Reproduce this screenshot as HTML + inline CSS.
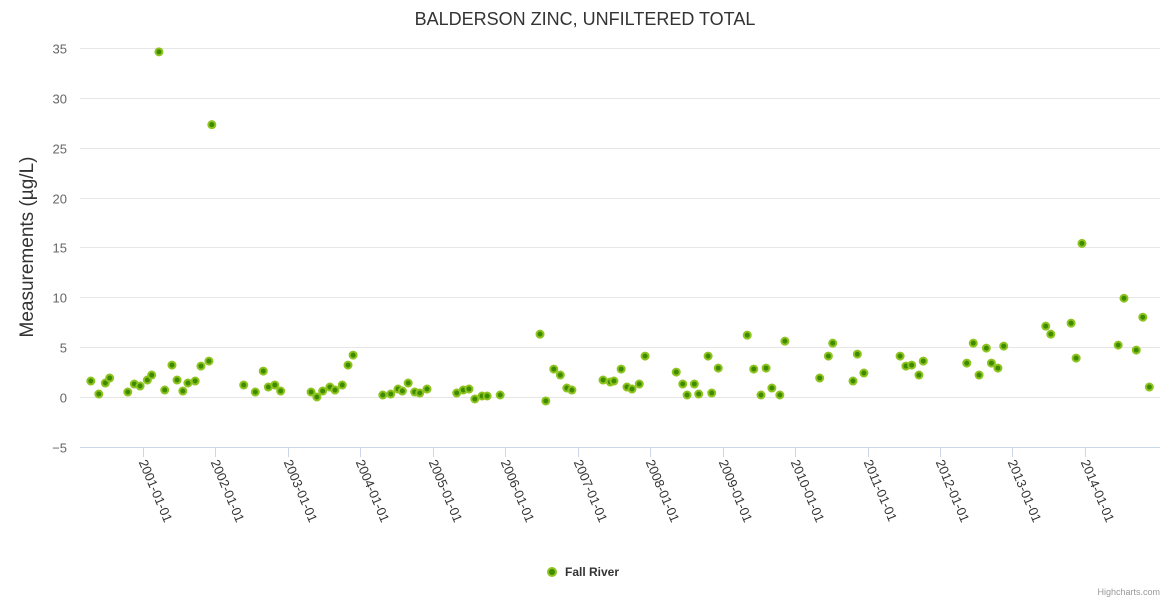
<!DOCTYPE html>
<html><head><meta charset="utf-8"><style>
html,body{margin:0;padding:0;background:#fff;}
svg{display:block;font-family:"Liberation Sans",sans-serif;}
</style></head><body>
<svg id="chart" width="1170" height="600">
<text x="585" y="25" text-anchor="middle" font-size="18" fill="#333">BALDERSON ZINC, UNFILTERED TOTAL</text>
<text transform="translate(33,247) rotate(-90)" text-anchor="middle" font-size="19" fill="#333">Measurements (µg/L)</text>
<g id="grid"></g><g id="xticks"></g><g id="yticks"></g><g id="points"></g>
<g>
<circle cx="552" cy="572" r="4" fill="#3d8c00" stroke="#8fc31f" stroke-width="2"></circle>
<text x="565" y="576" font-size="12" font-weight="bold" fill="#333">Fall River</text>
</g>
<text x="1160" y="595" text-anchor="end" font-size="9" fill="#999">Highcharts.com</text>
</svg>
<script>
const yearsX = [2000.28,2000.39,2000.48,2000.54,2000.79,2000.88,2000.96,2001.06,2001.12,2001.22,2001.30,2001.40,2001.47,2001.55,2001.62,2001.72,2001.80,2001.91,2001.95,
2002.39,2002.55,2002.66,2002.73,2002.82,2002.90,
2003.32,2003.40,2003.48,2003.58,2003.65,2003.75,2003.83,2003.90,
2004.31,2004.42,2004.52,2004.58,2004.66,2004.75,2004.82,2004.92,
2005.33,2005.42,2005.50,2005.58,2005.68,2005.75,2005.93,
2006.48,2006.56,2006.67,2006.76,2006.85,2006.92,
2007.35,2007.45,2007.50,2007.60,2007.68,2007.75,2007.85,2007.93,
2008.36,2008.45,2008.51,2008.61,2008.67,2008.80,2008.85,2008.94,
2009.34,2009.43,2009.53,2009.60,2009.68,2009.79,2009.86,
2010.34,2010.46,2010.52,2010.80,2010.86,2010.95,
2011.45,2011.53,2011.61,2011.71,2011.77,
2012.37,2012.46,2012.54,2012.64,2012.71,2012.80,2012.88,
2013.46,2013.53,2013.81,2013.88,2013.96,
2014.46,2014.54,2014.71,2014.80,2014.89];
const values = [1.6,0.3,1.4,1.9,0.5,1.3,1.1,1.7,2.2,34.6,0.7,3.2,1.7,0.6,1.4,1.6,3.1,3.6,27.3,
1.2,0.5,2.6,1.0,1.2,0.6,
0.5,0.0,0.6,1.0,0.7,1.2,3.2,4.2,
0.2,0.3,0.8,0.6,1.4,0.5,0.4,0.8,
0.4,0.7,0.8,-0.2,0.1,0.1,0.2,
6.3,-0.4,2.8,2.2,0.9,0.7,
1.7,1.5,1.6,2.8,1.0,0.8,1.3,4.1,
2.5,1.3,0.2,1.3,0.3,4.1,0.4,2.9,
6.2,2.8,0.2,2.9,0.9,0.2,5.6,
1.9,4.1,5.4,1.6,4.3,2.4,
4.1,3.1,3.2,2.2,3.6,
3.4,5.4,2.2,4.9,3.4,2.9,5.1,
7.1,6.3,7.4,3.9,15.4,
5.2,9.9,4.7,8.0,1.0];
const xTickYears = [2001,2002,2003,2004,2005,2006,2007,2008,2009,2010,2011,2012,2013,2014];
const yTicks = [-5,0,5,10,15,20,25,30,35];

const NS="http://www.w3.org/2000/svg";
const L=80,R=1160;
function xScale(yr){return 143+(yr-2001)*72.45;}
function yScale(v){return 397-v*9.975;}
function mk(tag,attrs,parent){const e=document.createElementNS(NS,tag);for(const k in attrs)e.setAttribute(k,attrs[k]);parent.appendChild(e);return e;}
const grid=document.getElementById('grid'),yt=document.getElementById('yticks'),xt=document.getElementById('xticks'),pts=document.getElementById('points');
yTicks.forEach(v=>{
  const y=Math.round(yScale(v))+0.5;
  const ln=mk('line',{x1:L,x2:R,y1:y,y2:y,stroke:v===-5?'#ccd6eb':'#e6e6e6','stroke-width':1},grid);
  
  
  const t=mk('text',{x:67,y:y+5,'text-anchor':'end','font-size':13,fill:'#666'},yt);
  t.textContent=String(v).replace('-','−');
  
  
});
xTickYears.forEach(yr=>{
  const x=Math.round(xScale(yr))+0.5;
  const tk=mk('line',{x1:x,x2:x,y1:447,y2:457,stroke:'#ccd6eb'},xt);
  
  
  const t=mk('text',{transform:'translate('+(x-5)+',462) rotate(67)','font-size':13,fill:'#333'},xt);
  t.textContent=yr+'-01-01';
  
  
});
yearsX.forEach((yr,i)=>{
  const c=mk('circle',{cx:xScale(yr),cy:yScale(values[i]),r:3.5,fill:'#3d8c00',stroke:'#8fc31f','stroke-width':2},pts);
  
  
});
</script>
</body></html>
